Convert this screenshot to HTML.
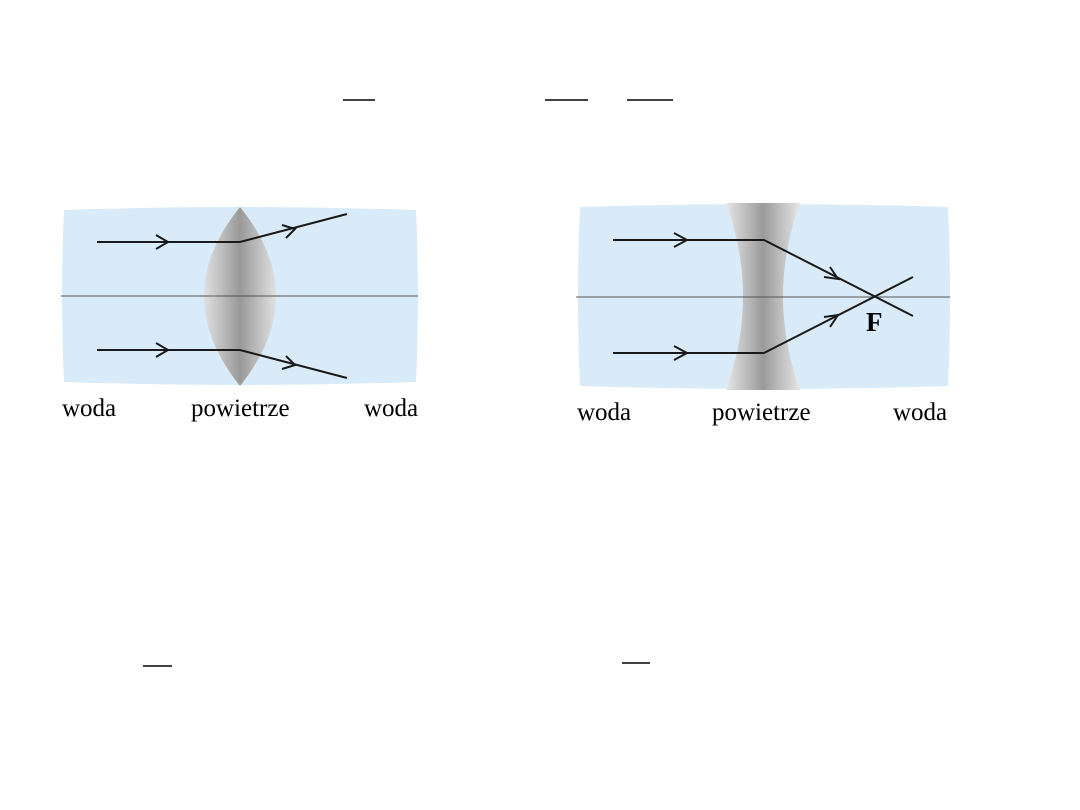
<!DOCTYPE html>
<html><head><style>body{margin:0;background:#fff}svg{display:block}</style></head><body>
<svg width="1080" height="810" xmlns="http://www.w3.org/2000/svg" font-family="Liberation Serif, serif">
<defs>
<linearGradient id="g1" x1="0" x2="1"><stop offset="0" stop-color="#e0e0e0"/><stop offset="0.5" stop-color="#999"/><stop offset="1" stop-color="#e0e0e0"/></linearGradient>
<linearGradient id="g2" x1="0" x2="1"><stop offset="0" stop-color="#e6e6e6"/><stop offset="0.5" stop-color="#9a9a9a"/><stop offset="1" stop-color="#e6e6e6"/></linearGradient>
</defs>
<g stroke="#000" stroke-width="1.5">
<line x1="343" y1="100" x2="375" y2="100"/><line x1="545" y1="100" x2="588" y2="100"/><line x1="627" y1="100" x2="673" y2="100"/>
<line x1="143" y1="666" x2="172" y2="666"/><line x1="622" y1="663" x2="650" y2="663"/>
</g>
<!-- left -->
<path d="M64 210 Q240 204 416 210 Q420 296 416 382 Q240 388 64 382 Q60 296 64 210Z" fill="#d9ebf8"/>
<path d="M240 207 Q312 296 240 386 Q168 296 240 207Z" fill="url(#g1)"/>
<line x1="61" y1="296" x2="418" y2="296" stroke="#555" stroke-width="1"/>
<g stroke="#1a1a1a" stroke-width="2" fill="none">
<polyline points="97,242 240,242 347,214"/><polyline points="97,350 240,350 347,378"/>
<polyline points="156,235 168,242 156,249"/><polyline points="156,343 168,350 156,357"/>
<polyline points="282,225 295,229 286,238"/><polyline points="286,356 295,365 282,369"/>
</g>
<text x="62" y="416" font-size="25">woda</text><text x="191" y="416" font-size="25">powietrze</text><text x="364" y="416" font-size="25">woda</text>
<!-- right -->
<path d="M580 207 Q764 201 948 207 Q952 297 948 386 Q764 392 580 386 Q576 297 580 207Z" fill="#d9ebf8"/>
<path d="M726 203 L800 203 Q766 296 800 390 L726 390 Q760 296 726 203Z" fill="url(#g2)"/>
<line x1="576" y1="297" x2="950" y2="297" stroke="#555" stroke-width="1"/>
<g stroke="#1a1a1a" stroke-width="2" fill="none">
<polyline points="613,240 764,240 913,316"/><polyline points="613,353 764,353 913,277"/>
<polyline points="674,233 687,240 674,247"/><polyline points="674,346 687,353 674,360"/>
<polyline points="824,277 838,279 830,267"/><polyline points="824,317 838,315 830,327"/>
</g>
<text x="866" y="331" font-size="27" font-weight="bold">F</text>
<text x="577" y="420" font-size="25">woda</text><text x="712" y="420" font-size="25">powietrze</text><text x="893" y="420" font-size="25">woda</text>
</svg>
</body></html>
